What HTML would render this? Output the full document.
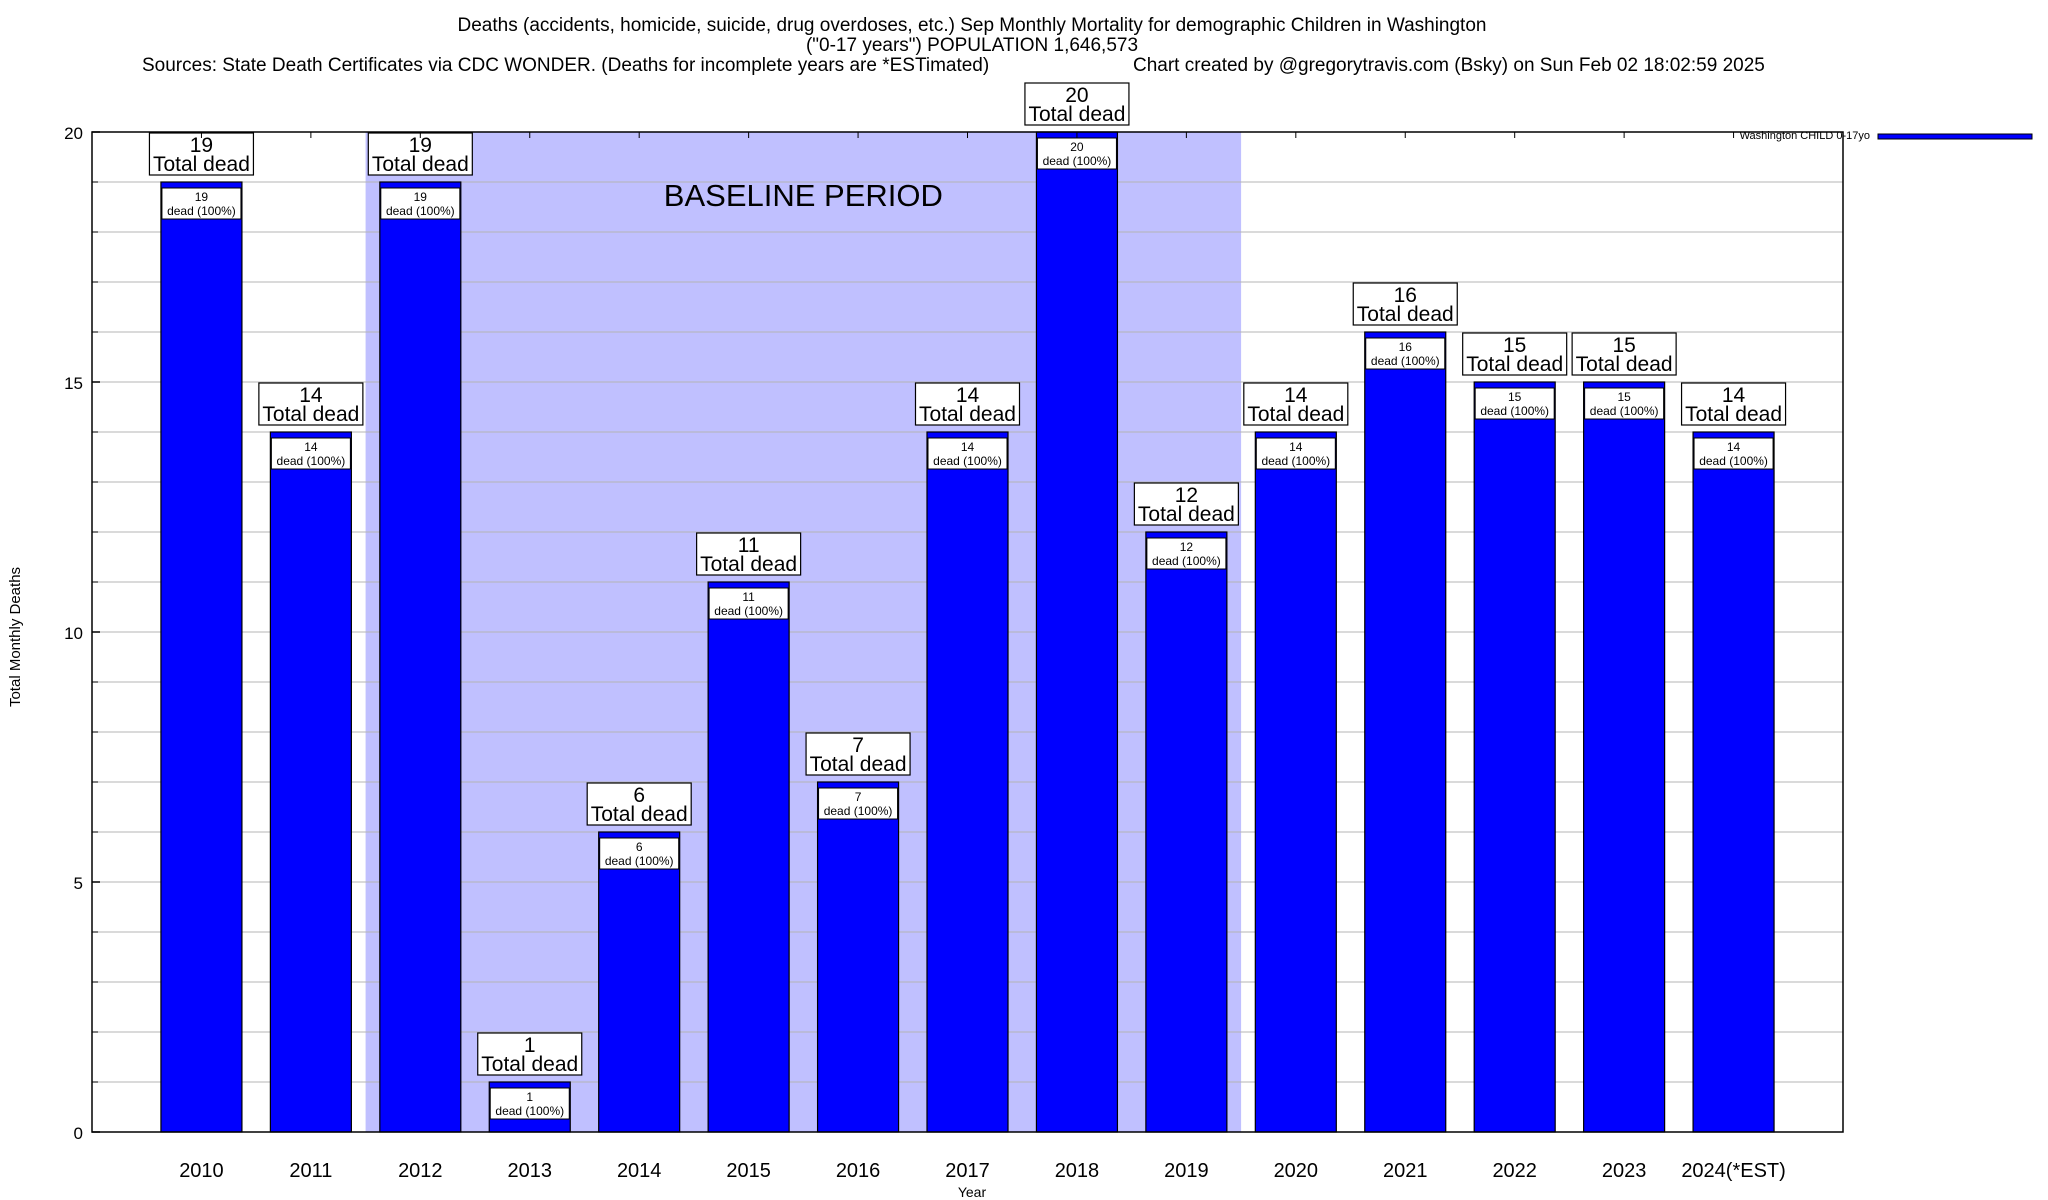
<!DOCTYPE html>
<html><head><meta charset="utf-8"><style>
html,body{margin:0;padding:0;background:#fff;}
svg{display:block;font-family:"Liberation Sans",sans-serif;}
</style></head><body>
<svg id="chart" width="2048" height="1200" viewBox="0 0 2048 1200" xmlns="http://www.w3.org/2000/svg">
<text x="972" y="31" font-size="19" text-anchor="middle">Deaths (accidents, homicide, suicide, drug overdoses, etc.) Sep Monthly Mortality for demographic Children in Washington</text>
<text x="972" y="51" font-size="19" text-anchor="middle">("0-17 years") POPULATION 1,646,573</text>
<text x="142" y="71" font-size="19">Sources: State Death Certificates via CDC WONDER. (Deaths for incomplete years are *ESTimated)</text>
<text x="1133" y="71" font-size="19">Chart created by @gregorytravis.com (Bsky) on Sun Feb 02 18:02:59 2025</text>
<g id="plot"></g>
<text transform="translate(20,637) rotate(-90)" font-size="15" text-anchor="middle">Total Monthly Deaths</text>
<text x="972" y="1197" font-size="14" text-anchor="middle">Year</text>
<g>
<text x="1870" y="139" font-size="11" text-anchor="end">Washington CHILD 0-17yo</text>
<rect x="1878" y="134" width="154" height="5" fill="#0000ff" stroke="#000" stroke-width="1"/>
</g>
</svg>
<script>
const categories = ["2010","2011","2012","2013","2014","2015","2016","2017","2018","2019","2020","2021","2022","2023","2024(*EST)"];
const deaths = [19,14,19,1,6,11,7,14,20,12,14,16,15,15,14];
const yTicks = [0,5,10,15,20];
const baselineRange = [2012, 2019];

const NS = "http://www.w3.org/2000/svg";
const L = 92, R = 1843, T = 132, B = 1132;
const yMin = 0, yMax = 20;
const nSlots = categories.length + 1;
const slot = (R - L) / nSlots;
function xPos(i){ return L + slot * (i + 1); }
function yPos(v){ return B - (v - yMin) / (yMax - yMin) * (B - T); }
const plot = document.getElementById('plot');
function mk(tag, attrs, parent){
  const e = document.createElementNS(NS, tag);
  for (const k in attrs) e.setAttribute(k, attrs[k]);
  (parent || plot).appendChild(e);
  return e;
}
// baseline shading
const bi0 = categories.findIndex(c => parseInt(c) === baselineRange[0]);
const bi1 = categories.findIndex(c => parseInt(c) === baselineRange[1]);
const shade = mk('rect', {x: xPos(bi0) - slot/2, y: T, width: (bi1 - bi0 + 1) * slot, height: B - T, fill: '#c0c0ff'});


const bl = mk('text', {x: (xPos(bi0) + xPos(bi1)) / 2, y: 206, 'font-size': 31, 'text-anchor': 'middle'});
bl.textContent = 'BASELINE PERIOD';


// grid lines every unit
for (let v = yMin + 1; v < yMax; v++) {
  const g = mk('line', {x1: L, x2: R, y1: yPos(v), y2: yPos(v), stroke: '#b4b4b4', 'stroke-width': 1});
  
  
  const t1 = mk('line', {x1: L, x2: L + 6, y1: yPos(v), y2: yPos(v), stroke: '#000', 'stroke-width': 1});
  
  
}
yTicks.forEach(v => {
  const t = mk('line', {x1: L, x2: L + 8, y1: yPos(v), y2: yPos(v), stroke: '#000', 'stroke-width': 1.5});
  
  
  const lb = mk('text', {x: 83, y: yPos(v) + 7, 'font-size': 17, 'text-anchor': 'end'});
  lb.textContent = v;
  
  
});
// bars
const bw = 81;
categories.forEach((c, i) => {
  const v = deaths[i];
  const cx = xPos(i);
  const top = yPos(v);
  const bar = mk('rect', {x: cx - bw/2, y: top, width: bw, height: B - top, fill: '#0000ff', stroke: '#000', 'stroke-width': 1.2});
  
  
  const ib = mk('rect', {x: cx - bw/2 + 1, y: top + 6, width: bw - 2, height: 31, fill: '#fff', stroke: '#000', 'stroke-width': 1});
  
  
  const it1 = mk('text', {x: cx, y: top + 19, 'font-size': 12, 'text-anchor': 'middle'});
  it1.textContent = v;
  
  
  const it2 = mk('text', {x: cx, y: top + 33, 'font-size': 12, 'text-anchor': 'middle'});
  it2.textContent = 'dead (100%)';
  
  
  const ob = mk('rect', {x: cx - 52, y: top - 49, width: 104, height: 42, fill: '#fff', stroke: '#000', 'stroke-width': 1.2});
  
  
  const ot1 = mk('text', {x: cx, y: top - 30, 'font-size': 21, 'text-anchor': 'middle'});
  ot1.textContent = v;
  
  
  const ot2 = mk('text', {x: cx, y: top - 11, 'font-size': 21, 'text-anchor': 'middle'});
  ot2.textContent = 'Total dead';
  
  
  const xl = mk('text', {x: cx, y: 1177, 'font-size': 20, 'text-anchor': 'middle'});
  xl.textContent = c;
  
  
  const tt = mk('line', {x1: cx, x2: cx, y1: T, y2: T + 6, stroke: '#000', 'stroke-width': 1});
  
  
});
const frame = mk('rect', {x: L, y: T, width: R - L, height: B - T, fill: 'none', stroke: '#000', 'stroke-width': 1.5});


</script>
</body></html>
